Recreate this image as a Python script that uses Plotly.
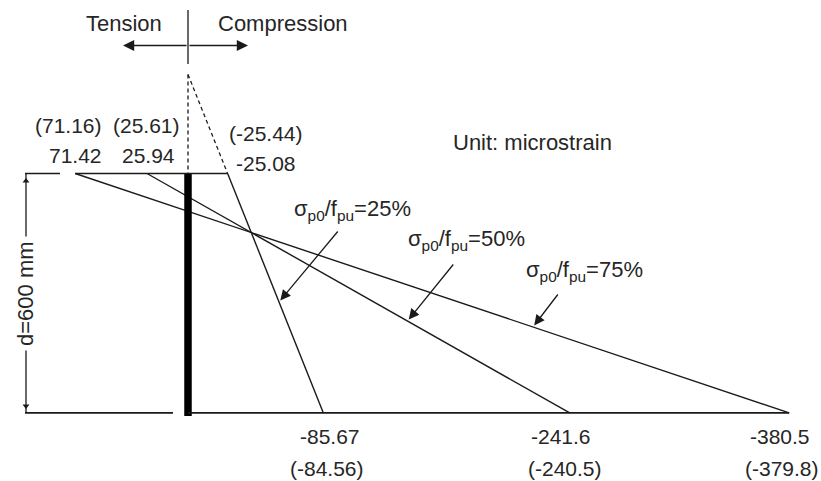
import plotly.graph_objects as go

# ---------------- data ----------------
section_depth = [0, 600]                      # mm, top and bottom fibre
ratio_labels = ["75%", "50%", "25%"]          # sigma_p0 / f_pu
top_strain = [71.42, 25.94, -25.08]           # microstrain at top fibre
top_strain_alt = [71.16, 25.61, -25.44]       # values in brackets
bottom_strain = [-380.5, -241.6, -85.67]      # microstrain at bottom fibre
bottom_strain_alt = [-379.8, -240.5, -84.56]  # values in brackets

# ---------------- layout helpers (pixel -> data) ----------------
W, H = 821, 481
X0, SX = 188.0, 1.58      # x pixel of zero strain, px per microstrain
Y0, SY = 173.5, 0.399     # y pixel of top fibre, px per mm


def dx(px):
    return (px - X0) / SX


def dy(py):
    return (py - Y0) / SY


INK = "#1a1a1a"
TXT = "#262626"
FONT = "Liberation Sans, Arial, sans-serif"
FS = 21
FS_WORD = 22

fig = go.Figure()


def seg(x, y, width=1.3, dash=None, color=INK):
    fig.add_trace(go.Scatter(x=x, y=y, mode="lines",
                             line=dict(color=color, width=width, dash=dash),
                             hoverinfo="skip", showlegend=False))


d_top, d_bot = section_depth

# strain profiles (compression plotted to the right: x = -strain)
for t, b in zip(top_strain, bottom_strain):
    seg([-t, -b], [d_top, d_bot], width=1.4)

# neutral axis extension for the 25% profile (dashed)
t25, b25 = top_strain[2], bottom_strain[2]
na_depth = d_top - t25 * (d_bot - d_top) / (b25 - t25)
seg([0, -t25], [na_depth, d_top], width=1.3, dash="4px,3px")
seg([0, 0], [na_depth, d_top], width=1.3, dash="4px,3px")

# section (thick) line
seg([0, 0], [d_top, d_bot + 8], width=7.5, color="#000000")

# extension lines top and bottom
dim_x = dx(26)
seg([dx(25), dx(60)], [d_top, d_top])
seg([-top_strain[0], -top_strain[2]], [d_top, d_top])
seg([dx(25), dx(173)], [d_bot, d_bot], width=1.6)
seg([0, -bottom_strain[0]], [d_bot, d_bot], width=1.6)

# dimension line
seg([dim_x, dim_x], [d_top, d_bot])
fig.add_trace(go.Scatter(x=[dim_x, dim_x], y=[dy(181), dy(406)], mode="markers",
                         marker=dict(symbol=["triangle-up", "triangle-down"],
                                     size=6, color=INK),
                         hoverinfo="skip", showlegend=False))

# tension / compression indicator
seg([0, 0], [dy(10), dy(64)], width=1.3)
arrow_y = dy(45.5)
ann = []
for end in (dx(123), dx(248)):
    ann.append(dict(x=end, y=arrow_y, ax=0, ay=arrow_y, axref="x", ayref="y",
                    xref="x", yref="y", text="", showarrow=True,
                    arrowhead=2, arrowsize=1.6, arrowwidth=1.4, arrowcolor=INK))


def label(text, px, py, size=FS, **kw):
    d = dict(x=dx(px), y=dy(py), xref="x", yref="y", text=text, showarrow=False,
             font=dict(family=FONT, size=size, color=TXT),
             xanchor="center", yanchor="middle")
    d.update(kw)
    ann.append(d)


label("Tension", 124, 23, size=FS_WORD)
label("Compression", 283, 23, size=FS_WORD)
label("Unit: microstrain", 532, 142, size=FS_WORD)
label("d=600 mm", 25, 294, size=FS_WORD, textangle=-90, bgcolor="white", borderpad=4)

# top fibre value labels
top_pos = [(75.5, 155), (148, 155), (266, 163)]
top_alt_pos = [(68, 125), (146, 125), (266, 133)]
for v, (px, py) in zip(top_strain, top_pos):
    label(f"{v:g}", px, py)
for v, (px, py) in zip(top_strain_alt, top_alt_pos):
    label(f"({v:g})", px, py)

# bottom fibre value labels
bot_pos = [(780, 436), (561, 436), (330, 436)]
bot_alt_pos = [(782, 468), (565, 468), (327, 468)]
for v, (px, py) in zip(bottom_strain, bot_pos):
    label(f"{v:g}", px, py)
for v, (px, py) in zip(bottom_strain_alt, bot_alt_pos):
    label(f"({v:g})", px, py)

# sigma labels with leader arrows
sig_pos = [(584, 271), (466, 240), (352, 210)]
tip_depth = [384.7, 369.7, 322.0]
tail_off = [(26, -34), (47, -58), (60, -72)]
for lab, (px, py), t, b, dpt, (ox, oy) in zip(ratio_labels, sig_pos, top_strain,
                                               bottom_strain, tip_depth, tail_off):
    label(f"σ<sub>p0</sub>/f<sub>pu</sub>={lab}", px, py, size=FS_WORD)
    frac = (dpt - d_top) / (d_bot - d_top)
    xt = -t + (-b + t) * frac
    ann.append(dict(x=xt, y=dpt, xref="x", yref="y", ax=ox, ay=oy, text="",
                    showarrow=True, arrowhead=2, arrowsize=1.6, arrowwidth=1.3,
                    arrowcolor=INK, standoff=2))

fig.update_layout(
    width=W, height=H,
    margin=dict(l=0, r=0, t=0, b=0),
    paper_bgcolor="white", plot_bgcolor="white",
    xaxis=dict(range=[dx(0), dx(W)], visible=False, fixedrange=True),
    yaxis=dict(range=[dy(H), dy(0)], visible=False, fixedrange=True),
    annotations=ann,
    showlegend=False,
)

fig.write_html(
    "out.html",
    config={"displayModeBar": False},
    post_script="document.body.style.margin='0';document.body.style.overflow='hidden';",
)
